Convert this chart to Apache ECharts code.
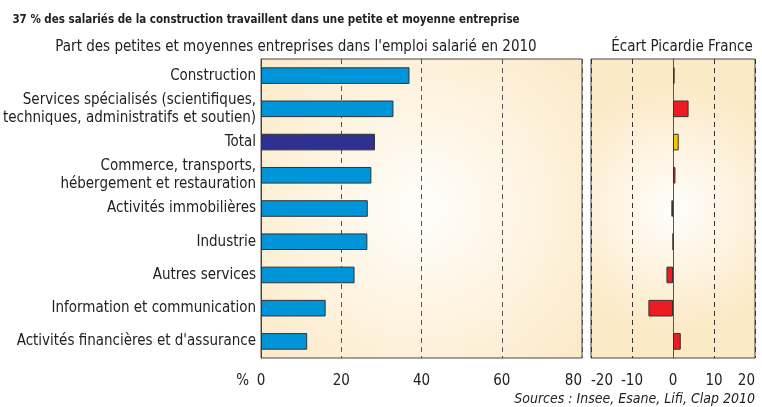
<!DOCTYPE html>
<html>
<head>
<meta charset="utf-8">
<script src="https://cdn.jsdelivr.net/npm/echarts@6/dist/echarts.min.js"></script>
<style>
  html, body { margin: 0; padding: 0; background: #fff; }
  #chart { width: 762px; height: 407px; }
</style>
</head>
<body>
<div id="chart"></div>
<script>
// categories, top to bottom
var categories = [
  'Construction',
  'Services spécialisés (scientifiques,\ntechniques, administratifs et soutien)',
  'Total',
  'Commerce, transports,\nhébergement et restauration',
  'Activités immobilières',
  'Industrie',
  'Autres services',
  'Information et communication',
  "Activités financières et d'assurance"
]
// part des PME dans l'emploi salarié (%)
var partPme = [37, 33, 28.4, 27.5, 26.6, 26.5, 23.3, 16.1, 11.5]
// écart Picardie - France (points)
var ecart = [0.4, 3.8, 1.4, 0.6, -0.4, 0, -1.6, -6.0, 1.9]

var font = '"Liberation Sans Narrow", "DejaVu Sans Condensed", sans-serif'

function bg() {
  return {
    type: 'radial', x: 0.5, y: 0.5, r: 0.75,
    colorStops: [
      { offset: 0, color: '#fffefb' },
      { offset: 1, color: '#fce9c6' }
    ]
  }
}

var myChart = echarts.init(document.getElementById('chart'))
var option = {
  animation: false,
  textStyle: { fontFamily: font },
  title: [
    {
      text: '37 % des salariés de la construction travaillent dans une petite et moyenne entreprise',
      left: 261, top: 9, textAlign: 'center',
      textStyle: { fontFamily: font, fontSize: 11.5, fontWeight: 'bold', color: '#222' }
    },
    {
      text: "Part des petites et moyennes entreprises dans l'emploi salarié en 2010",
      left: 291, top: 35, textAlign: 'center',
      textStyle: { fontFamily: font, fontSize: 15, fontWeight: 'normal', color: '#222' }
    },
    {
      text: 'Écart Picardie France',
      left: 677, top: 35, textAlign: 'center',
      textStyle: { fontFamily: font, fontSize: 15, fontWeight: 'normal', color: '#222' }
    },
    {
      text: 'Sources : Insee, Esane, Lifi, Clap 2010',
      right: 2, top: 387,
      textStyle: { fontFamily: font, fontSize: 14, fontWeight: 'normal', fontStyle: 'italic', color: '#222' }
    }
  ],
  grid: [
    { left: 257, right: 180, top: 59, bottom: 49, show: true, backgroundColor: bg(), borderColor: '#444', borderWidth: 1 },
    { left: 591, right: 7, top: 59, bottom: 49, show: true, backgroundColor: bg(), borderColor: '#444', borderWidth: 1 }
  ],
  xAxis: [
    {
      gridIndex: 0, type: 'value', min: 0, max: 80, interval: 20,
      name: '%', nameLocation: 'start', nameGap: 12,
      nameTextStyle: { fontFamily: font, fontSize: 15, color: '#222', verticalAlign: 'top', padding: [16, 0, 0, 0] },
      axisLine: { show: false }, axisTick: { show: false },
      axisLabel: { fontFamily: font, fontSize: 15, color: '#222', margin: 16, alignMaxLabel: 'right' },
      splitLine: { show: true, lineStyle: { type: [5, 4], color: '#555', width: 1 } }
    },
    {
      gridIndex: 1, type: 'value', min: -20, max: 20, interval: 10,
      axisLine: { show: false }, axisTick: { show: false },
      axisLabel: { fontFamily: font, fontSize: 15, color: '#222', margin: 16, alignMinLabel: 'left', alignMaxLabel: 'right' },
      splitLine: { show: true, lineStyle: { type: [5, 4], color: '#333', width: 1 } }
    }
  ],
  yAxis: [
    {
      gridIndex: 0, type: 'category', data: categories, inverse: true,
      axisLine: { show: true, lineStyle: { color: '#444' } },
      axisTick: { show: false },
      axisLabel: { fontFamily: font, fontSize: 15, color: '#222', margin: 5, lineHeight: 18 }
    },
    {
      gridIndex: 1, type: 'category', data: categories, inverse: true,
      axisLine: { show: true, onZero: true, lineStyle: { color: '#555' } },
      axisTick: { show: false },
      axisLabel: { show: false }
    }
  ],
  series: [
    {
      type: 'bar', xAxisIndex: 0, yAxisIndex: 0, barWidth: '50%',
      data: partPme.map(function (v, i) {
        return {
          value: v,
          itemStyle: { color: categories[i] === 'Total' ? '#2e3192' : '#0095d9' }
        }
      }),
      itemStyle: { borderColor: '#333', borderWidth: 1 }
    },
    {
      type: 'bar', xAxisIndex: 1, yAxisIndex: 1, barWidth: '50%',
      data: ecart.map(function (v, i) {
        return {
          value: v,
          itemStyle: { color: categories[i] === 'Total' ? '#f8c400' : '#ed1c24' }
        }
      }),
      itemStyle: { borderColor: '#333', borderWidth: 1 }
    }
  ]
}
option && myChart.setOption(option)
</script>
</body>
</html>
